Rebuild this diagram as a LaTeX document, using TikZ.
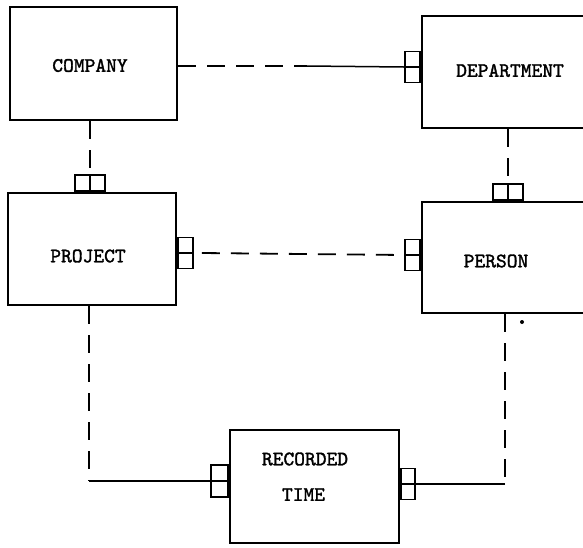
\documentclass[tikz,border=0pt]{standalone}
\usepackage{fontspec}
\newfontfamily\typew{lmmono10-regular.otf}[FakeBold=1.6]
\begin{document}
\begin{tikzpicture}[x=1pt,y=-1pt,
  entity/.style={draw, line width=2.2pt, rectangle, inner sep=0pt},
  lbl/.style={font=\typew\fontsize{20.5}{22}\selectfont, inner sep=0pt},
  hport/.style={draw, line width=1.8pt, rectangle, inner sep=0pt, minimum width=15pt, minimum height=31pt,
    path picture={\draw[line width=1.4pt] (path picture bounding box.west) -- (path picture bounding box.east);}},
  vport/.style={draw, line width=1.8pt, rectangle, inner sep=0pt, minimum width=30pt, minimum height=16pt,
    path picture={\draw[line width=1.4pt] (path picture bounding box.north) -- (path picture bounding box.south);}},
  opt/.style={line width=1.8pt, dash pattern=on 18pt off 11pt},
  mand/.style={line width=1.5pt}]
\useasboundingbox (0,0) rectangle (583,547);
\clip (0,0) rectangle (583,547);
% entities
\node[entity, minimum width=167pt, minimum height=113pt] (company) at (93.5,63.5) {};
\node[entity, minimum width=180pt, minimum height=112pt] (department) at (512,72) {};
\node[entity, minimum width=168pt, minimum height=112pt] (project) at (92,249) {};
\node[entity, minimum width=180pt, minimum height=111pt] (person) at (512,257.5) {};
\node[entity, minimum width=169pt, minimum height=113pt] (rtime) at (314.5,486.5) {};
% labels
\node[lbl] (lcompany) at (90,65.5) {COMPANY};
\node[lbl] (ldepartment) at (510,70.5) {DEPARTMENT};
\node[lbl] (lproject) at (88,256) {PROJECT};
\node[lbl] (lperson) at (496,261) {PERSON};
\node[lbl] (lrecorded) at (305,459) {RECORDED};
\node[lbl] (ltime) at (303.5,494.5) {TIME};
% ports
\coordinate (pnx) at (90,0);
\coordinate (psx) at (508,0);
\node[hport, anchor=east] (depW) at (department.west |- 0,67) {};
\node[vport, anchor=south] (projN) at (pnx |- project.north) {};
\node[vport, anchor=south] (persN) at (psx |- person.north) {};
\node[hport, anchor=west] (projE) at (project.east |- 0,253) {};
\node[hport, anchor=east] (persW) at (person.west |- 0,255) {};
\node[hport, anchor=east, minimum width=17pt, minimum height=32pt] (rtW) at (rtime.west |- 0,481) {};
\node[hport, anchor=west, minimum width=14pt] (rtE) at (rtime.east |- 0,484) {};
% bend points
\coordinate (cdmid) at (307,66);
\coordinate (prbend) at (89,481);
\coordinate (perbend) at (505,484);
% connectors
\draw[opt] (company.east |- cdmid) -- (cdmid);
\draw[mand] (cdmid) -- (depW.west);
\draw[opt] (projN.north |- company.south) -- (projN.north);
\draw[opt] (persN.north |- department.south) -- (persN.north);
\draw[opt] ([xshift=8pt]projE.east) -- (persW.west);
\draw[opt] (prbend |- project.south) -- (prbend);
\draw[mand] (prbend) -- (rtW.west);
\draw[opt] (perbend |- person.south) -- (perbend);
\draw[mand] (perbend) -- (rtE.east);
\fill (522,322) circle (2pt);
\end{tikzpicture}
\end{document}
